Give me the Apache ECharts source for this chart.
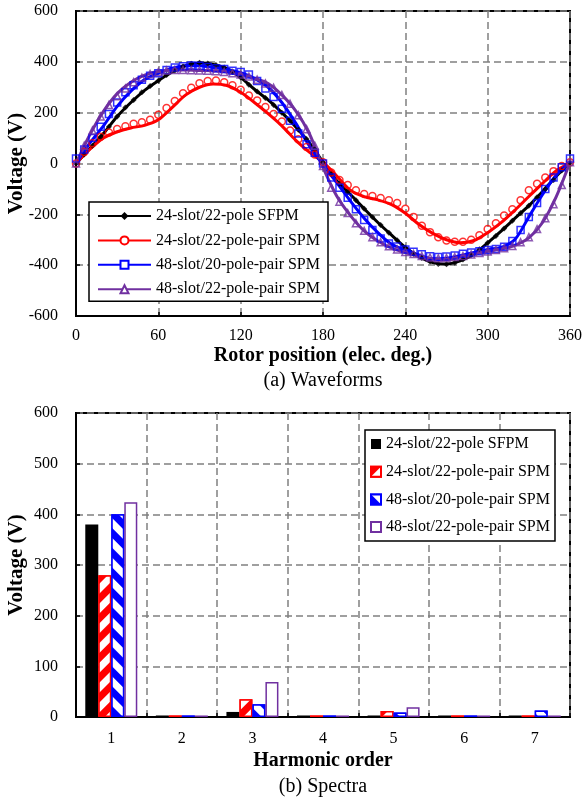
<!DOCTYPE html>
<html><head><meta charset="utf-8">
<script src="https://cdn.jsdelivr.net/npm/echarts@6/dist/echarts.min.js"></script>
<style>html,body{margin:0;padding:0;background:#fff}#c{width:585px;height:803px}</style>
</head><body><div id="c"></div>
<script>
// ---------- data ----------
const seriesNames = ['24-slot/22-pole SFPM', '24-slot/22-pole-pair SPM', '48-slot/20-pole-pair SPM', '48-slot/22-pole-pair SPM'];

// rotor position (elec. deg.) for the continuous curves
const angleLine = [0,10,20,30,40,50,60,70,80,90,100,110,120,130,140,150,160,170,180,190,200,210,220,230,240,250,260,270,280,290,300,310,320,330,340,350,360];
// rotor position (elec. deg.) for the markers
const angleMark = [0,6,12,18,24,30,36,42,48,54,60,66,72,78,84,90,96,102,108,114,120,126,132,138,144,150,156,162,168,174,180,186,192,198,204,210,216,222,228,234,240,246,252,258,264,270,276,282,288,294,300,306,312,318,324,330,336,342,348,354,360];

// curves (V)
const sfpmLine   = [0,58,118,185,240,288,326,360,385,395,390,373,338,292,250,200,145,82,5,-68,-122,-178,-232,-282,-330,-367,-390,-395,-383,-356,-312,-265,-215,-166,-110,-50,2];
const spm24Line  = [0,55,100,125,140,150,172,220,270,300,313,307,280,240,196,148,92,45,5,-49,-105,-130,-143,-162,-196,-240,-275,-300,-312,-303,-272,-232,-183,-130,-78,-28,2];
const spm4820Line= [0,80,148,225,285,330,355,375,385,385,378,370,357,335,300,240,160,70,-5,-75,-148,-215,-272,-318,-340,-360,-375,-373,-363,-350,-338,-330,-298,-210,-122,-45,5];
const spm4822Line= [0,112,205,275,320,348,362,368,368,366,365,360,350,335,315,270,208,118,-15,-128,-205,-265,-305,-333,-350,-365,-376,-378,-368,-357,-346,-336,-322,-293,-232,-130,5];

// markers (V)
const sfpmMark   = [0,35,70,105,145,185,220,250,280,305,326,348,366,382,392,396,393,388,378,360,338,310,283,258,230,200,168,133,96,55,5,-42,-80,-112,-145,-178,-210,-242,-272,-302,-330,-355,-372,-386,-395,-396,-390,-378,-360,-337,-312,-285,-256,-225,-195,-166,-133,-100,-65,-28,2];
const spm24Mark  = [0,45,80,105,122,136,147,156,162,172,192,218,246,276,298,316,325,327,320,308,290,268,248,222,195,165,130,95,65,35,5,-35,-65,-85,-105,-120,-128,-136,-145,-155,-178,-210,-245,-270,-290,-303,-308,-308,-300,-282,-258,-235,-205,-180,-145,-105,-80,-55,-30,-10,5];
const spm4820Mark= [20,55,100,145,195,240,280,308,330,345,355,368,378,383,386,385,380,375,372,365,360,350,325,295,262,215,168,118,76,42,0,-55,-95,-135,-180,-222,-262,-295,-315,-327,-338,-347,-357,-365,-368,-366,-362,-355,-350,-345,-340,-336,-328,-305,-262,-210,-155,-100,-55,-15,20];
const spm4822Mark= [0,70,130,185,230,265,295,320,338,352,360,366,368,368,367,366,365,363,360,355,350,342,330,315,298,270,235,190,135,70,-10,-95,-150,-195,-235,-265,-290,-310,-326,-338,-348,-356,-364,-370,-373,-372,-368,-364,-358,-352,-346,-340,-333,-325,-310,-290,-258,-215,-160,-85,5];

// spectra
const harmonics = ['1','2','3','4','5','6','7'];
const sfpmSpec   = [380, 3, 10, 3, 3, 3, 3];
const spm24Spec  = [280, 3, 35, 3, 12, 3, 3];
const spm4820Spec= [400, 3, 25, 3, 9, 3, 13];
const spm4822Spec= [424, 3, 69, 3, 19, 3, 3];

// ---------- styling ----------
const FONT = 'Liberation Serif';
const colors = ['#000000', '#ff0000', '#0000ff', '#7030a0'];
const lineSymbols = ['diamond', 'emptyCircle', 'emptyRect', 'emptyTriangle'];
const markSymbols = ['diamond', 'circle', 'rect', 'triangle'];
const markSizes = [6, 7, 7, 7];
const lineSets = [sfpmLine, spm24Line, spm4820Line, spm4822Line];
const markSets = [sfpmMark, spm24Mark, spm4820Mark, spm4822Mark];
const specSets = [sfpmSpec, spm24Spec, spm4820Spec, spm4822Spec];

const splitLine = {show: true, lineStyle: {color: '#808080', width: 1.5, type: [7, 4]}};
const axisLine = {show: true, onZero: false, lineStyle: {color: '#000', width: 2}};
const axisTick = {show: true, inside: true, length: 4, lineStyle: {color: '#000', width: 1.5}};
const labelStyle = {fontFamily: FONT, fontSize: 16, color: '#000'};
const nameStyle = {fontFamily: FONT, fontSize: 20, fontWeight: 'bold', color: '#000'};

const series = [];
for (let i = 0; i < 4; i++) {
  series.push({
    type: 'line', name: seriesNames[i], xAxisIndex: 0, yAxisIndex: 0,
    data: angleLine.map((a, k) => [a, lineSets[i][k]]),
    smooth: 0.3, symbol: lineSymbols[i], symbolSize: 7, showSymbol: false,
    lineStyle: {color: colors[i], width: 3}, itemStyle: {color: colors[i], borderWidth: 1.5},
    z: 2, animation: false
  });
}
for (let i = 0; i < 4; i++) {
  series.push({
    type: 'scatter', name: 'm' + i, xAxisIndex: 0, yAxisIndex: 0,
    data: angleMark.map((a, k) => [a, markSets[i][k]]),
    symbol: markSymbols[i], symbolSize: markSizes[i], clip: false,
    itemStyle: i === 0 ? {color: '#000'} : {color: 'rgba(0,0,0,0)', borderColor: colors[i], borderWidth: 1.5},
    z: 3, animation: false
  });
}
const barStyles = [
  {color: '#000'},
  {color: '#fff', borderColor: '#ff0000', borderWidth: 1.5,
   decal: {symbol: 'rect', color: '#ff0000', backgroundColor: '#fff', dashArrayX: [1, 0], dashArrayY: [7, 7], rotation: -Math.PI / 4}},
  {color: '#fff', borderColor: '#0000ff', borderWidth: 1.5,
   decal: {symbol: 'rect', color: '#0000ff', backgroundColor: '#fff', dashArrayX: [1, 0], dashArrayY: [7, 7], rotation: Math.PI / 4}},
  {color: '#fff', borderColor: '#7030a0', borderWidth: 1.5}
];
for (let i = 0; i < 4; i++) {
  series.push({
    type: 'bar', name: 'b' + i, xAxisIndex: 1, yAxisIndex: 1,
    data: specSets[i], barWidth: 13, barGap: '0%',
    itemStyle: barStyles[i], animation: false
  });
}

const yName = {name: 'Voltage (V)', nameLocation: 'middle', nameGap: 49, nameMoveOverlap: false,
               nameTextStyle: {...nameStyle, fontSize: 21}};

const option = {
  animation: false,
  backgroundColor: '#fff',
  grid: [
    {left: 76, top: 11, width: 494, height: 305, show: true, borderColor: '#000', borderWidth: 2, containLabel: false, outerBoundsMode: 'none'},
    {left: 76, top: 413, width: 494, height: 304, show: true, borderColor: '#000', borderWidth: 2, containLabel: false, outerBoundsMode: 'none'}
  ],
  xAxis: [
    {type: 'value', gridIndex: 0, min: 0, max: 360, interval: 60,
     axisLine, axisTick, splitLine, axisLabel: {...labelStyle, margin: 12},
     name: 'Rotor position (elec. deg.)', nameLocation: 'middle', nameGap: 30, nameTextStyle: nameStyle},
    {type: 'category', gridIndex: 1, data: harmonics,
     axisLine, axisTick, splitLine, axisLabel: {...labelStyle, margin: 14},
     name: 'Harmonic order', nameLocation: 'middle', nameGap: 34, nameTextStyle: nameStyle}
  ],
  yAxis: [
    {type: 'value', gridIndex: 0, min: -600, max: 600, interval: 200,
     axisLine, axisTick, splitLine, axisLabel: {...labelStyle, margin: 18}, ...yName},
    {type: 'value', gridIndex: 1, min: 0, max: 600, interval: 100,
     axisLine, axisTick, splitLine, axisLabel: {...labelStyle, margin: 18}, ...yName}
  ],
  legend: [
    {data: seriesNames, orient: 'vertical', left: 89, top: 202, padding: [6, 8, 4, 8],
     itemGap: 8.4, itemWidth: 53, itemHeight: 10,
     borderColor: '#000', borderWidth: 1.5, backgroundColor: '#fff',
     textStyle: {fontFamily: FONT, fontSize: 16, color: '#000'}, selectedMode: false},
    {data: ['b0', 'b1', 'b2', 'b3'], orient: 'vertical', left: 365, top: 430, padding: [6, 5, 6, 5],
     itemGap: 11.7, itemWidth: 10, itemHeight: 10, icon: 'rect',
     borderColor: '#000', borderWidth: 1.5, backgroundColor: '#fff',
     formatter: function (n) { return seriesNames[+n.slice(1)]; },
     textStyle: {fontFamily: FONT, fontSize: 16, color: '#000'}, selectedMode: false}
  ],
  graphic: [
    {type: 'text', x: 323, y: 381, style: {text: '(a) Waveforms', align: 'center', verticalAlign: 'middle', textAlign: 'center', textVerticalAlign: 'middle', fontFamily: FONT, fontSize: 20, fill: '#000'}},
    {type: 'text', x: 323, y: 787, style: {text: '(b) Spectra', align: 'center', verticalAlign: 'middle', textAlign: 'center', textVerticalAlign: 'middle', fontFamily: FONT, fontSize: 20, fill: '#000'}}
  ],
  series: series
};

const chart = echarts.init(document.getElementById('c'));
chart.setOption(option);
</script></body></html>
